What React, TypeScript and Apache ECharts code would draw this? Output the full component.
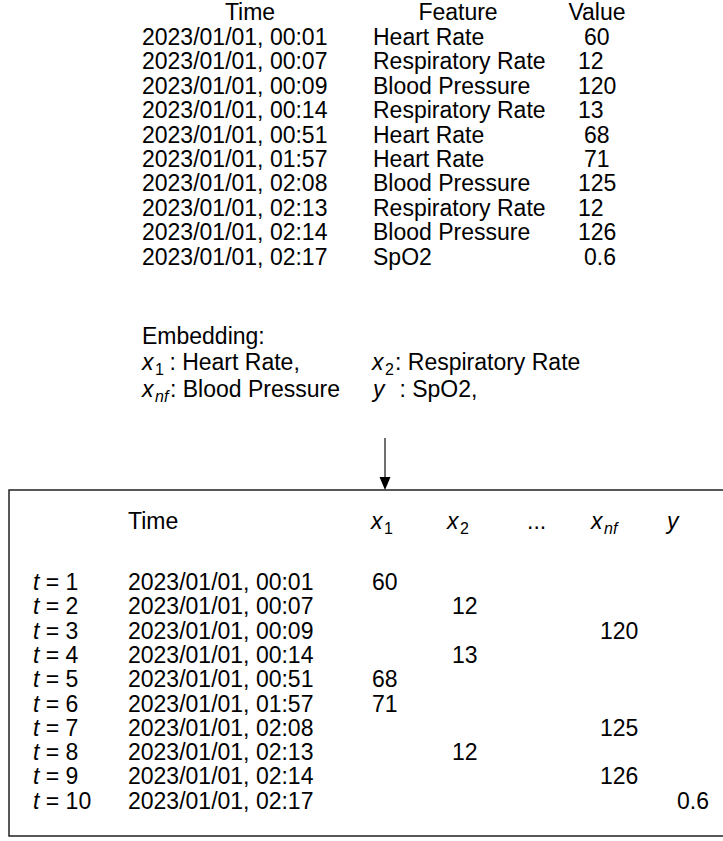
import React, { useEffect, useRef } from "react";
import * as echarts from "echarts";

const topHeaders = ["Time", "Feature", "Value"];
const times = [
  "2023/01/01, 00:01",
  "2023/01/01, 00:07",
  "2023/01/01, 00:09",
  "2023/01/01, 00:14",
  "2023/01/01, 00:51",
  "2023/01/01, 01:57",
  "2023/01/01, 02:08",
  "2023/01/01, 02:13",
  "2023/01/01, 02:14",
  "2023/01/01, 02:17",
];
const features = [
  "Heart Rate",
  "Respiratory Rate",
  "Blood Pressure",
  "Respiratory Rate",
  "Heart Rate",
  "Heart Rate",
  "Blood Pressure",
  "Respiratory Rate",
  "Blood Pressure",
  "SpO2",
];
const values = ["60", "12", "120", "13", "68", "71", "125", "12", "126", "0.6"];

// embedding: feature -> column symbol (base, subscript)
const embedFeatures = ["Heart Rate", "Respiratory Rate", "Blood Pressure", "SpO2"];
const embedBase = ["x", "x", "x", "y"];
const embedSub = ["1", "2", "nf", ""];
const embedLabels = [" : Heart Rate,", ": Respiratory Rate", ": Blood Pressure", " : SpO2,"];

const FONT = "'Liberation Sans', Arial, Helvetica, sans-serif";

export default function App() {
  const ref = useRef<HTMLDivElement>(null);
  useEffect(() => {
    document.body.style.margin = "0";
    const chart = echarts.init(ref.current!, null, { renderer: "svg" });
    const els: any[] = [];
    const txt = (x: number, y: number, s: string, size: number, opts: any = {}) => {
      els.push({
        type: "text",
        x,
        y,
        silent: true,
        style: {
          text: s,
          fontSize: size,
          fontFamily: FONT,
          fill: "#000",
          align: opts.align || "left",
          verticalAlign: "middle",
          fontStyle: opts.italic ? "italic" : "normal",
        },
      });
    };
    const SUB = 16;
    const sym = (x: number, y: number, base: string, sub: string, size: number) => {
      txt(x, y, base, size, { italic: true });
      if (sub) txt(x + 13, y + 7, sub, SUB, { italic: sub === "nf" });
    };

    const FS = 23;
    // Top table
    const topCols = [142, 373];
    const headerCenters = [250, 458, 597];
    topHeaders.forEach((h, i) => txt(headerCenters[i], 12, h, FS, { align: "center" }));
    const rowY0 = 37;
    const rowH = 24.4;
    times.forEach((t, i) => {
      const y = rowY0 + i * rowH;
      txt(topCols[0], y, t, FS);
      txt(topCols[1], y, features[i], FS);
      // value column follows a tab stop: short feature names land a little further right
      const vx = features[i].length > 10 ? 578 : 584;
      txt(vx, y, values[i], FS);
    });

    // Embedding block
    txt(142, 336, "Embedding:", FS);
    const embPos = [
      [142, 362],
      [372, 362],
      [142, 389],
      [373, 389],
    ];
    const labelOff = [21, 23, 28, 20];
    embedFeatures.forEach((f, i) => {
      const [x, y] = embPos[i];
      sym(x, y, embedBase[i], embedSub[i], FS);
      txt(x + labelOff[i], y, embedLabels[i], FS);
    });

    // Arrow
    els.push({
      type: "line",
      silent: true,
      shape: { x1: 385, y1: 438, x2: 385, y2: 484 },
      style: { stroke: "#222", lineWidth: 1.3 },
    });
    els.push({
      type: "polygon",
      silent: true,
      shape: { points: [[379.5, 477], [390.5, 477], [385, 490]] },
      style: { fill: "#000" },
    });

    // Box
    els.push({
      type: "rect",
      silent: true,
      shape: { x: 9, y: 490, width: 760, height: 346 },
      style: { fill: "none", stroke: "#222", lineWidth: 1.5 },
    });

    // Lower table
    const colX = [372, 452, 600, 677];
    const headY = 521;
    txt(128, headY, "Time", FS);
    sym(371, headY, "x", "1", FS);
    sym(447, headY, "x", "2", FS);
    txt(527, headY, "...", FS);
    sym(591, headY, "x", "nf", FS);
    sym(667, headY, "y", "", FS);
    const lY0 = 582;
    const lH = 24.3;
    times.forEach((t, i) => {
      const y = lY0 + i * lH;
      els.push({
        type: "text",
        x: 33,
        y,
        silent: true,
        style: {
          text: "{i|t} = " + (i + 1),
          fontSize: FS,
          fontFamily: FONT,
          fill: "#000",
          verticalAlign: "middle",
          rich: { i: { fontStyle: "italic", fontSize: FS, fontFamily: FONT } },
        },
      });
      txt(128, y, t, FS);
      const c = embedFeatures.indexOf(features[i]);
      txt(colX[c], y, values[i], FS);
    });

    chart.setOption({
      animation: false,
      backgroundColor: "#fff",
      graphic: { elements: els },
    });
    return () => chart.dispose();
  }, []);
  return <div ref={ref} style={{ width: 723, height: 841 }} />;
}
